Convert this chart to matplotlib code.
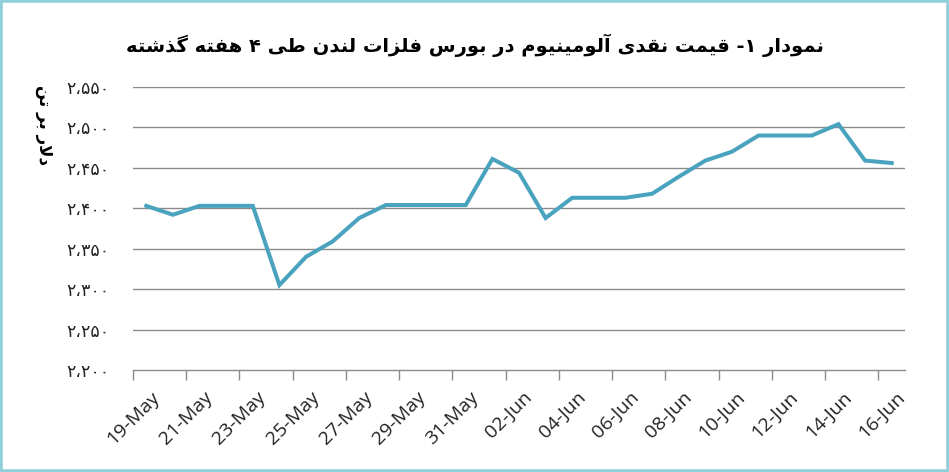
import matplotlib
matplotlib.use("Agg")
import matplotlib.pyplot as plt
from matplotlib.patches import Rectangle
from matplotlib.transforms import ScaledTranslation

# ---------------- data ----------------
dates = ["19-May", "20-May", "21-May", "22-May", "23-May", "24-May", "25-May",
         "26-May", "27-May", "28-May", "29-May", "30-May", "31-May", "01-Jun",
         "02-Jun", "03-Jun", "04-Jun", "05-Jun", "06-Jun", "07-Jun", "08-Jun",
         "09-Jun", "10-Jun", "11-Jun", "12-Jun", "13-Jun", "14-Jun", "15-Jun",
         "16-Jun"]
prices = [2403, 2392, 2403, 2403, 2403, 2305, 2340, 2359, 2388, 2404,
          2404, 2404, 2404, 2461, 2444, 2388, 2413, 2413, 2413, 2418,
          2439, 2459, 2470, 2490, 2490, 2490, 2504, 2459, 2456]
y_ticks = [2200, 2250, 2300, 2350, 2400, 2450, 2500, 2550]
title_text = "نمودار ۱- قیمت نقدی آلومینیوم در بورس فلزات لندن طی ۴ هفته گذشته"
ylabel_text = "دلار بر تن"

# ------------- minimal Arabic/Persian shaping -------------
# (isolated, final, initial, medial)
FORMS = {
    "ا": ("\uFE8D", "\uFE8E", None, None),
    "آ": ("\uFE81", "\uFE82", None, None),
    "د": ("\uFEA9", "\uFEAA", None, None),
    "ذ": ("\uFEAB", "\uFEAC", None, None),
    "ر": ("\uFEAD", "\uFEAE", None, None),
    "ز": ("\uFEAF", "\uFEB0", None, None),
    "و": ("\uFEED", "\uFEEE", None, None),
    "ب": ("\uFE8F", "\uFE90", "\uFE91", "\uFE92"),
    "ت": ("\uFE95", "\uFE96", "\uFE97", "\uFE98"),
    "س": ("\uFEB1", "\uFEB2", "\uFEB3", "\uFEB4"),
    "ش": ("\uFEB5", "\uFEB6", "\uFEB7", "\uFEB8"),
    "ط": ("\uFEC1", "\uFEC2", "\uFEC3", "\uFEC4"),
    "ف": ("\uFED1", "\uFED2", "\uFED3", "\uFED4"),
    "ق": ("\uFED5", "\uFED6", "\uFED7", "\uFED8"),
    "ل": ("\uFEDD", "\uFEDE", "\uFEDF", "\uFEE0"),
    "م": ("\uFEE1", "\uFEE2", "\uFEE3", "\uFEE4"),
    "ن": ("\uFEE5", "\uFEE6", "\uFEE7", "\uFEE8"),
    "ه": ("\uFEE9", "\uFEEA", "\uFEEB", "\uFEEC"),
    "ی": ("\uFBFC", "\uFBFD", "\uFBFE", "\uFBFF"),
    "گ": ("\uFB92", "\uFB93", "\uFB94", "\uFB95"),
}
LAMALEF = {"ا": ("\uFEFB", "\uFEFC"), "آ": ("\uFEF5", "\uFEF6")}


def dual(c):
    return c in FORMS and FORMS[c][2] is not None


def shape(text):
    out = []
    i = 0
    n = len(text)
    while i < n:
        c = text[i]
        if c not in FORMS:
            out.append(c)
            i += 1
            continue
        prev_join = i > 0 and dual(text[i - 1])
        if c == "ل" and i + 1 < n and text[i + 1] in LAMALEF:
            out.append(LAMALEF[text[i + 1]][1 if prev_join else 0])
            i += 2
            continue
        next_join = dual(c) and i + 1 < n and text[i + 1] in FORMS
        iso, fin, ini, med = FORMS[c]
        if prev_join and next_join:
            out.append(med)
        elif next_join:
            out.append(ini)
        elif prev_join:
            out.append(fin)
        else:
            out.append(iso)
        i += 1
    return "".join(reversed(out))


PERSIAN_DIGITS = str.maketrans("0123456789", "۰۱۲۳۴۵۶۷۸۹")


def fa_num(v):
    s = f"{v:,}".replace(",", "\u060C")
    return s.translate(PERSIAN_DIGITS)


# ---------------- figure ----------------
W, H = 949, 472
fig = plt.figure(figsize=(W / 100, H / 100), dpi=100)
fig.patch.set_facecolor("white")

# light blue frame
frame_col = "#8FCFDC"
fig.patches.append(Rectangle((0, 0), 1, 1, transform=fig.transFigure,
                             fill=False, edgecolor=frame_col, linewidth=4.0,
                             zorder=10))

ax = fig.add_axes([133 / W, 1 - 370 / H, (905 - 133) / W, (370 - 87) / H])
x = list(range(len(dates)))
ax.plot(x, prices, color="#4AA3BE", linewidth=2.9, solid_joinstyle="miter",
        zorder=3)

ax.set_xlim(-0.5, len(dates) - 0.5)
ax.set_ylim(y_ticks[0], y_ticks[-1])

grid_col = "#8A8A8A"
for v in y_ticks[1:]:
    ax.axhline(v, color=grid_col, linewidth=1.0, zorder=1)

for s in ["left", "right", "top"]:
    ax.spines[s].set_visible(False)
ax.spines["bottom"].set_color(grid_col)
ax.spines["bottom"].set_linewidth(1.0)

# y ticks
ax.set_yticks(y_ticks)
ax.set_yticklabels([fa_num(v) for v in y_ticks], fontsize=12.5,
                   family="DejaVu Sans", color="#222222")
ax.tick_params(axis="y", length=0, pad=17)

# x ticks: marks between category pairs, labels on every 2nd category
major = [k - 0.5 for k in range(0, len(dates), 2)]
ax.set_xticks(major)
ax.set_xticklabels([""] * len(major))
ax.tick_params(axis="x", which="major", direction="out", length=7,
               color=grid_col, width=1.0)
label_pos = list(range(0, len(dates), 2))
ax.set_xticks(label_pos, minor=True)
ax.set_xticklabels([dates[k] for k in label_pos], minor=True, rotation=45,
                   ha="right", va="top", rotation_mode="anchor",
                   fontsize=14, color="#222222", family="Open Sans")
ax.tick_params(axis="x", which="minor", length=0, pad=13)
shift = ScaledTranslation(4 / 100, 0, fig.dpi_scale_trans)
for lab in ax.get_xticklabels(minor=True):
    lab.set_transform(lab.get_transform() + shift)

# title and y label
fig.text(0.5, 1 - 45 / H, shape(title_text), ha="center", va="center",
         fontsize=14, fontweight="bold", family="DejaVu Sans", color="black")
fig.text(44 / W, 1 - 125 / H, shape(ylabel_text), ha="center", va="center",
         rotation=-90, fontsize=12, fontweight="bold", family="DejaVu Sans",
         color="black")

fig.savefig("out.png", dpi=100)
